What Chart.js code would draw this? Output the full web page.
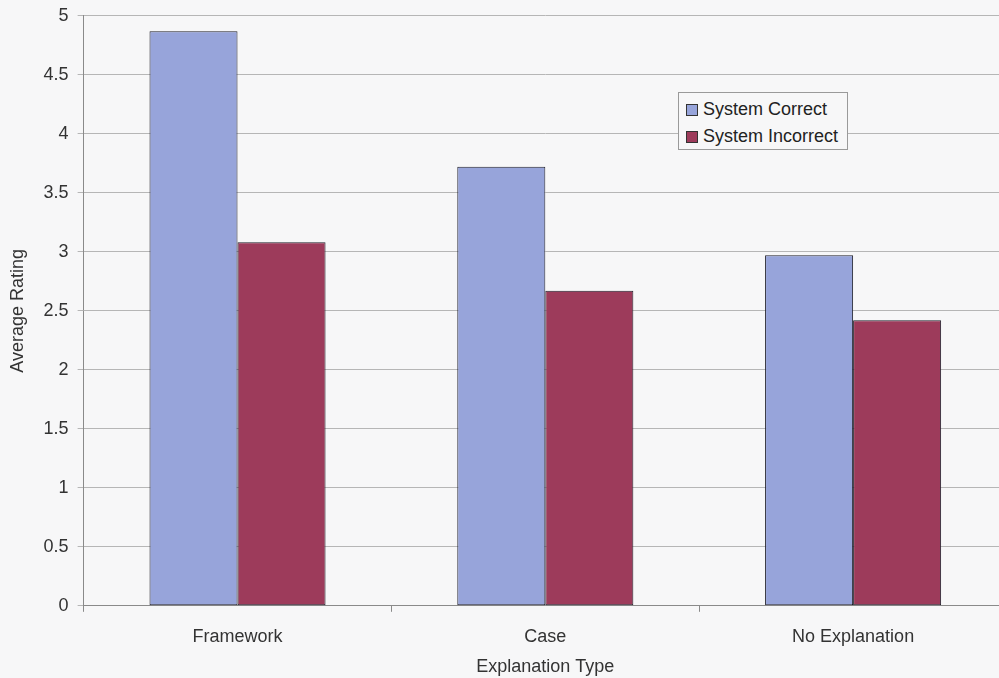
<!DOCTYPE html>
<html>
<head>
<meta charset="utf-8">
<script src="https://cdn.jsdelivr.net/npm/chart.js@4/dist/chart.umd.min.js"></script>
<style>
  html, body { margin: 0; padding: 0; background: #f7f7f8; overflow: hidden; }
  #wrap { position: relative; width: 1007px; height: 678px; overflow: hidden; }
  #c { position: absolute; left: 0; top: -4px; }
  #legend {
    position: absolute; left: 678px; top: 92px; width: 170px; height: 58px;
    border: 1px solid #9a9a9a; background: #f7f7f8; box-sizing: border-box;
    font-family: "Liberation Sans", Arial, sans-serif; font-size: 18px; color: #222;
    padding: 3px 0 0 7px;
  }
  .item { display: flex; align-items: center; height: 27px; white-space: nowrap; }
  .sw { width: 12px; height: 12px; border: 1px solid #333; margin-right: 5px; box-sizing: border-box; }
</style>
</head>
<body>
<div id="wrap">
  <canvas id="c" width="1007" height="682"></canvas>
  <div id="legend"></div>
</div>
<script>
// Average rating per explanation type, split by whether the system was right
const categories = ["Framework", "Case", "No Explanation"];
const systemCorrect = [4.87, 3.72, 2.97];
const systemIncorrect = [3.08, 2.67, 2.42];
const seriesNames = ["System Correct", "System Incorrect"];
const yTicks = [0, 0.5, 1, 1.5, 2, 2.5, 3, 3.5, 4, 4.5, 5];

const blue = "#97a4da";
const red = "#9d3b5b";
const font = "'Liberation Sans', Arial, sans-serif";

const chart = new Chart(document.getElementById("c"), {
  type: "bar",
  data: {
    labels: categories,
    datasets: [
      { label: seriesNames[0], data: systemCorrect, backgroundColor: blue, borderColor: "#1f1f2a", borderWidth: 1, borderSkipped: false },
      { label: seriesNames[1], data: systemIncorrect, backgroundColor: red, borderColor: "#1f1f2a", borderWidth: 1, borderSkipped: false }
    ]
  },
  options: {
    responsive: false,
    animation: false,
    layout: { padding: { top: 0, left: 7, right: 0, bottom: 0 } },
    datasets: { bar: { categoryPercentage: 0.572, barPercentage: 1.0 } },
    plugins: { legend: { display: false }, tooltip: { enabled: false } },
    scales: {
      x: {
        grid: { display: true, drawOnChartArea: false, drawTicks: true, tickLength: 6, offset: true, color: "#8a8a8a" },
        border: { color: "#8a8a8a" },
        ticks: { color: "#333", font: { family: font, size: 18 }, padding: 14 },
        title: { display: true, text: "Explanation Type", color: "#333", font: { family: font, size: 18 }, padding: { top: -5, bottom: 0 } }
      },
      y: {
        min: 0, max: 5,
        afterBuildTicks: (axis) => { axis.ticks = yTicks.map(v => ({ value: v })); },
        grid: { color: "#b6b6b6", tickLength: 6 },
        border: { color: "#8a8a8a" },
        ticks: { color: "#333", font: { family: font, size: 18 }, padding: 9, callback: (v) => String(v) },
        title: { display: true, text: "Average Rating", color: "#333", font: { family: font, size: 18 }, padding: { top: 0, bottom: 6 } }
      }
    }
  }
});

// Legend box built from the dataset labels and colours
const legend = document.getElementById("legend");
chart.data.datasets.forEach(ds => {
  const row = document.createElement("div");
  row.className = "item";
  const sw = document.createElement("span");
  sw.className = "sw";
  sw.style.background = ds.backgroundColor;
  const tx = document.createElement("span");
  tx.textContent = ds.label;
  row.appendChild(sw);
  row.appendChild(tx);
  legend.appendChild(row);
});
</script>
</body>
</html>
